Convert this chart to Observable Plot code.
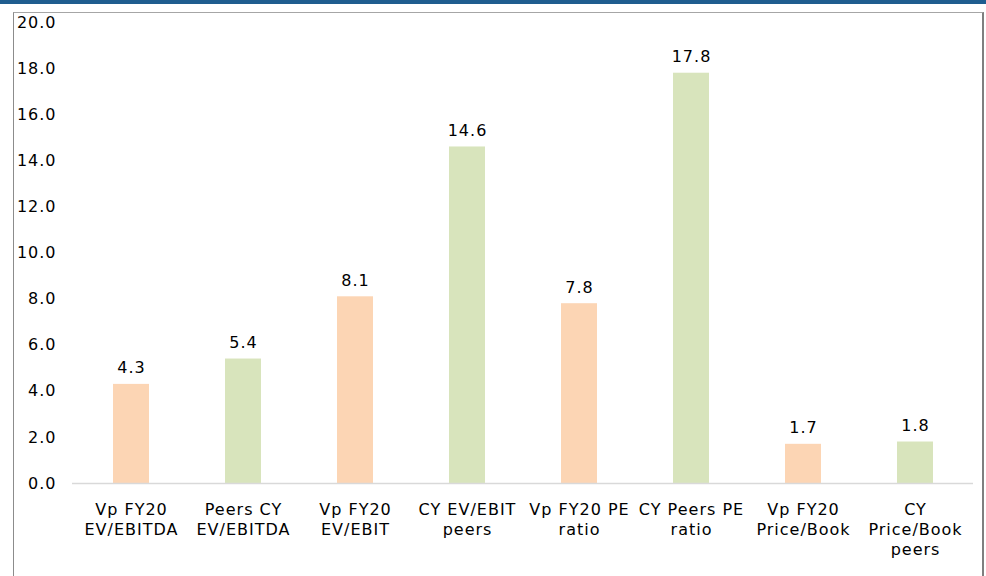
<!DOCTYPE html>
<html>
<head>
<meta charset="utf-8">
<script src="https://cdn.jsdelivr.net/npm/d3@7"></script>
<script src="https://cdn.jsdelivr.net/npm/@observablehq/plot@0.6"></script>
<style>
  html, body { margin: 0; padding: 0; background: #fff; }
  body { width: 986px; height: 576px; position: relative; overflow: hidden; font-family: "DejaVu Sans", Verdana, sans-serif; }
  #band { position: absolute; left: 0; top: 0; width: 986px; height: 4px; background: #1f5d8f; }
  #frame { position: absolute; left: 13px; top: 12px; width: 968px; height: 600px;
           border-left: 1px solid #8c8c8c; border-top: 1px solid #a6a6a6; border-right: 2px solid #7f7f7f; }
  #chart { position: absolute; left: 0; top: 0; }
  #chart svg text { letter-spacing: 1px; }
</style>
</head>
<body>
<div id="band"></div>
<div id="frame"></div>
<div id="chart"></div>
<script>
// Valuation multiples: the company versus its peers
const categories = [
  "Vp FY20\nEV/EBITDA",
  "Peers CY\nEV/EBITDA",
  "Vp FY20\nEV/EBIT",
  "CY EV/EBIT\npeers",
  "Vp FY20 PE\nratio",
  "CY Peers PE\nratio",
  "Vp FY20\nPrice/Book",
  "CY\nPrice/Book\npeers"
];
const values = [4.3, 5.4, 8.1, 14.6, 7.8, 17.8, 1.7, 1.8];
const groups = ["Vp", "Peers", "Vp", "Peers", "Vp", "Peers", "Vp", "Peers"];
const yTicks = [0, 2, 4, 6, 8, 10, 12, 14, 16, 18, 20];

const data = categories.map((c, i) => ({category: c, value: values[i], group: groups[i]}));

const chart = Plot.plot({
  width: 986,
  height: 576,
  marginLeft: 72,
  marginRight: 13,
  marginTop: 22,
  marginBottom: 93,
  style: {fontFamily: "'DejaVu Sans', Verdana, sans-serif", fontSize: "16px", color: "#000", background: "transparent"},
  x: {domain: categories, paddingInner: 0.68, paddingOuter: 0.34, label: null},
  y: {domain: [0, 20], label: null},
  color: {domain: ["Vp", "Peers"], range: ["#fcd5b4", "#d8e4bc"]},
  marks: [
    Plot.barY(data, {x: "category", y: "value", fill: "group"}),
    Plot.ruleY([0], {stroke: "#d9d9d9", strokeWidth: 1.5}),
    Plot.text(data, {x: "category", y: "value", text: d => d.value.toFixed(1), lineAnchor: "bottom", dy: -11, fill: "#000", fontSize: 16}),
    Plot.axisY({ticks: yTicks, tickFormat: d => d.toFixed(1), tickSize: 0, tickPadding: 16, fontSize: 16, fill: "#000", label: null}),
    Plot.axisX({tickSize: 0, tickPadding: 17, fontSize: 16, lineHeight: 1.25, fill: "#000", label: null, tickFormat: d => d})
  ]
});
document.getElementById("chart").appendChild(chart);
</script>
</body>
</html>
